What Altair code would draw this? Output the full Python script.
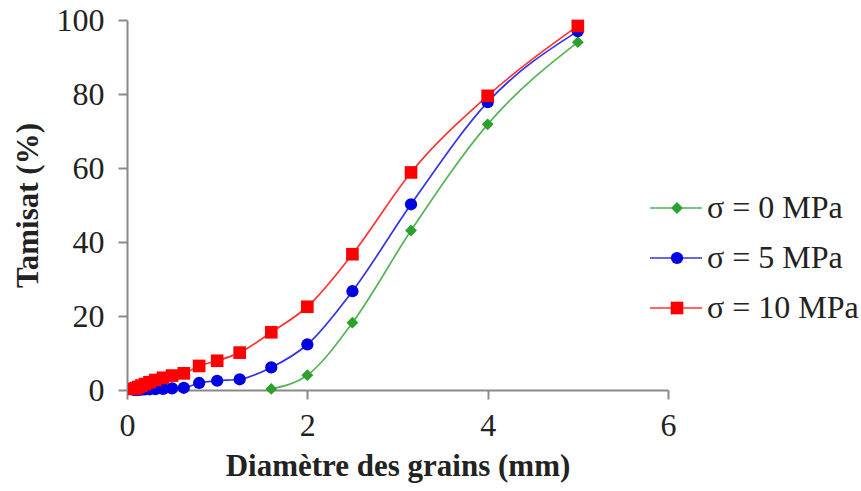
import altair as alt
import pandas as pd

# Sieve openings (mm) and cumulative passing (%) for each confining stress
sieve_mm = [0.08, 0.1, 0.125, 0.16, 0.2, 0.25, 0.315, 0.4, 0.5, 0.63,
            0.8, 1.0, 1.25, 1.6, 2.0, 2.5, 3.15, 4.0, 5.0]
passing_10mpa = [0.3, 0.5, 0.8, 1.2, 1.6, 2.1, 2.7, 3.3, 3.9, 4.5,
                 6.5, 7.9, 10.1, 15.6, 22.5, 36.7, 58.8, 79.5, 98.4]
passing_5mpa = [0.0, 0.0, 0.05, 0.1, 0.15, 0.2, 0.25, 0.3, 0.45, 0.6,
                1.9, 2.5, 2.9, 6.1, 12.3, 26.7, 50.2, 77.8, 97.0]
sieve_0mpa = [1.6, 2.0, 2.5, 3.15, 4.0, 5.0]
passing_0mpa = [0.3, 4.0, 18.2, 43.1, 71.8, 94.0]

series_labels = ["σ = 0 MPa", "σ = 5 MPa", "σ = 10 MPa"]
series_colors = ["#2ca02c", "#0000e0", "#ff0000"]
series_shapes = ["diamond", "circle", "square"]

rows = []
for d, p in zip(sieve_0mpa, passing_0mpa):
    rows.append({"d": d, "p": p, "serie": series_labels[0]})
for d, p in zip(sieve_mm, passing_5mpa):
    rows.append({"d": d, "p": p, "serie": series_labels[1]})
for d, p in zip(sieve_mm, passing_10mpa):
    rows.append({"d": d, "p": p, "serie": series_labels[2]})
df = pd.DataFrame(rows)

legend_df = pd.DataFrame({"serie": series_labels, "row": [0, 1, 2]})

FONT = "Liberation Serif"

color = alt.Color("serie:N", scale=alt.Scale(domain=series_labels, range=series_colors), legend=None)
shape = alt.Shape("serie:N", scale=alt.Scale(domain=series_labels, range=series_shapes), legend=None)
size = alt.Size("serie:N", scale=alt.Scale(domain=series_labels, range=[140, 160, 160]), legend=None)

x_enc = alt.X("d:Q", title="Diamètre des grains (mm)",
              scale=alt.Scale(domain=[0, 6], nice=False),
              axis=alt.Axis(values=[0, 2, 4, 6], format="d"))
y_enc = alt.Y("p:Q", title="Tamisat (%)",
              scale=alt.Scale(domain=[0, 100], nice=False),
              axis=alt.Axis(values=[0, 20, 40, 60, 80, 100]))

base = alt.Chart(df)
curves = base.mark_line(interpolate="monotone", strokeWidth=1.7, opacity=0.8).encode(
    x=x_enc, y=y_enc, color=color, detail="serie:N"
)
markers = base.mark_point(filled=True, opacity=1).encode(
    x=x_enc, y=y_enc, color=color, shape=shape, size=size
)
data_layer = alt.layer(curves, markers)

# Legend drawn as line + marker + label per series
ly = alt.Y("row:O", scale=alt.Scale(type="point", range=[188, 288], padding=0), axis=None)
leg = alt.Chart(legend_df)
leg_line = leg.mark_rule(strokeWidth=1.7, opacity=0.8).encode(
    x=alt.value(523), x2=alt.value(575), y=ly, color=color
)
leg_mark = leg.mark_point(filled=True, opacity=1).encode(
    x=alt.value(550), y=ly, color=color, shape=shape,
    size=alt.Size("serie:N", scale=alt.Scale(domain=series_labels, range=[100, 120, 120]), legend=None)
)
leg_text = leg.mark_text(align="left", baseline="middle", font=FONT, fontSize=32, color="#222222").encode(
    x=alt.value(580), y=ly, text="serie:N"
)
legend_layer = alt.layer(leg_line, leg_mark, leg_text)

chart = alt.layer(data_layer, legend_layer).resolve_scale(y="independent").properties(
    width=541, height=370,
    autosize=alt.AutoSizeParams(type="none"),
    padding={"left": 127, "top": 20, "right": 193, "bottom": 101},
).configure_view(stroke=None).configure_axis(
    grid=False, labelFlush=False,
    domainColor="#8a8a8a", domainWidth=2,
    tickColor="#8a8a8a", tickWidth=2, tickSize=9,
    labelFont=FONT, labelFontSize=32, labelColor="#222222",
    titleFont=FONT, titleFontSize=31, titleFontWeight="bold", titleColor="#222222",
).configure_axisX(
    labelPadding=11, titlePadding=10
).configure_axisY(
    labelPadding=14, titlePadding=12
)

chart.save("out.html", embed_options={"renderer": "svg", "actions": False})
